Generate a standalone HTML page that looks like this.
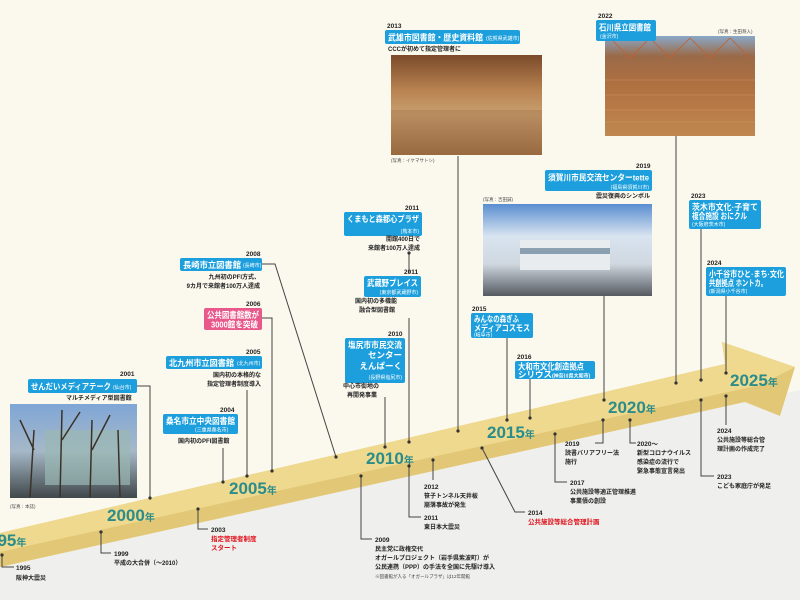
<!DOCTYPE html>
<html><head><meta charset="utf-8"><style>
html,body{margin:0;padding:0;width:800px;height:600px;overflow:hidden;background:#fbf9ee}
svg{display:block}
text{font-family:"Liberation Sans","Noto Sans CJK JP",sans-serif}
.t{fill:#fff;font-weight:bold;font-size:8.5px}
.s{fill:#fff;font-size:5px}
.y{fill:#222;font-size:6.5px;font-weight:bold}
.d{fill:#222;font-size:6px;font-weight:bold}
.c{fill:#444;font-size:4.5px}
.r{fill:#e0141e;font-size:6.5px;font-weight:bold}
.yr{fill:#2b8c8a;font-weight:bold;font-size:17px}
.nen{fill:#2b8c8a;font-weight:bold;font-size:10px}
.ln{stroke:#444;stroke-width:1;fill:none}
.bx{fill:#1c9fdc}
</style></head><body>
<svg width="800" height="600" viewBox="0 0 800 600" xmlns="http://www.w3.org/2000/svg">
<defs>
<linearGradient id="sky" x1="0" y1="0" x2="0" y2="1"><stop offset="0" stop-color="#7fa6d6"/><stop offset="0.5" stop-color="#a6b8c8"/><stop offset="1" stop-color="#40484a"/></linearGradient>
<linearGradient id="tk" x1="0" y1="0" x2="0" y2="1"><stop offset="0" stop-color="#7a4a2a"/><stop offset="0.35" stop-color="#b88250"/><stop offset="0.6" stop-color="#c8a070"/><stop offset="1" stop-color="#8a5a30"/></linearGradient>
<linearGradient id="ik" x1="0" y1="0" x2="0" y2="1"><stop offset="0" stop-color="#8aa8c8"/><stop offset="0.2" stop-color="#9a6a48"/><stop offset="0.5" stop-color="#b07040"/><stop offset="1" stop-color="#c08850"/></linearGradient>
<linearGradient id="sg" x1="0" y1="0" x2="0" y2="1"><stop offset="0" stop-color="#5a8ed0"/><stop offset="0.35" stop-color="#d8e4f0"/><stop offset="0.65" stop-color="#d0d8e0"/><stop offset="1" stop-color="#555a60"/></linearGradient>
</defs>
<polygon points="0,567 745,402 800,390 800,600 0,600" fill="#efefed"/>
<polygon points="0,533 725,364 722,342 795,367 780,416 745,402 0,567" fill="#e2c777"/>
<polygon points="0,533 725,364 722,342 795,367 760,385 0,552" fill="#eed98e"/>
<text x="-12" y="546" class="yr">995<tspan class="nen">年</tspan></text>
<text x="107" y="521" class="yr">2000<tspan class="nen">年</tspan></text>
<text x="229" y="494" class="yr">2005<tspan class="nen">年</tspan></text>
<text x="366" y="464" class="yr">2010<tspan class="nen">年</tspan></text>
<text x="487" y="438" class="yr">2015<tspan class="nen">年</tspan></text>
<text x="608" y="413" class="yr">2020<tspan class="nen">年</tspan></text>
<text x="730" y="386" class="yr">2025<tspan class="nen">年</tspan></text>

<g class="ln">
<polyline points="137,386 150,386 150,498"/>
<line x1="223" y1="448" x2="223" y2="482"/>
<line x1="247" y1="390" x2="247" y2="476"/>
<polyline points="262,318 272,318 272,471"/>
<polyline points="262,264 275,264 336,457"/>
<line x1="385" y1="397" x2="385" y2="447"/>
<line x1="409" y1="253" x2="409" y2="273"/>
<line x1="409" y1="318" x2="409" y2="442"/>
<line x1="458" y1="156" x2="458" y2="431"/>
<line x1="507" y1="338" x2="507" y2="420"/>
<line x1="530" y1="379" x2="530" y2="418"/>
<line x1="604" y1="296" x2="604" y2="400"/>
<line x1="676" y1="136" x2="676" y2="383"/>
<line x1="701" y1="229" x2="701" y2="380"/>
<line x1="726" y1="296" x2="726" y2="373"/>
<polyline points="2,555 2,567 14,567"/>
<polyline points="101,532 101,553 111,553"/>
<polyline points="198,509 198,529 208,529"/>
<polyline points="361,476 361,539 372,539"/>
<polyline points="409,466 409,517 421,517"/>
<line x1="433" y1="460" x2="433" y2="480"/>
<polyline points="482,448 515,512 525,512"/>
<polyline points="555,434 555,482 567,482"/>
<polyline points="603,420 603,443 595,443"/>
<polyline points="630,420 630,443 636,443"/>
<polyline points="701,400 701,476 714,476"/>
<line x1="726" y1="396" x2="726" y2="425"/>
</g>
<g fill="#333">
<circle cx="150" cy="498" r="1.6"/><circle cx="223" cy="482" r="1.6"/><circle cx="247" cy="476" r="1.6"/><circle cx="272" cy="471" r="1.6"/><circle cx="336" cy="457" r="1.6"/><circle cx="385" cy="447" r="1.6"/><circle cx="409" cy="442" r="1.6"/><circle cx="409" cy="253" r="1.6"/><circle cx="458" cy="431" r="1.6"/><circle cx="507" cy="420" r="1.6"/><circle cx="530" cy="418" r="1.6"/><circle cx="604" cy="400" r="1.6"/><circle cx="676" cy="383" r="1.6"/><circle cx="701" cy="380" r="1.6"/><circle cx="726" cy="373" r="1.6"/>
<circle cx="2" cy="555" r="1.6"/><circle cx="101" cy="532" r="1.6"/><circle cx="198" cy="509" r="1.6"/><circle cx="361" cy="476" r="1.6"/><circle cx="409" cy="466" r="1.6"/><circle cx="433" cy="460" r="1.6"/><circle cx="482" cy="448" r="1.6"/><circle cx="555" cy="434" r="1.6"/><circle cx="603" cy="420" r="1.6"/><circle cx="630" cy="420" r="1.6"/><circle cx="701" cy="400" r="1.6"/><circle cx="726" cy="396" r="1.6"/>
</g>

<rect x="10" y="404" width="127" height="94" fill="url(#sky)"/>
<rect x="45" y="430" width="85" height="55" fill="#9ab8b4" opacity="0.7"/>
<g stroke="#3a3228" stroke-width="1.5" fill="none"><path d="M30,497 L34,430 M34,450 L20,420 M60,497 L62,410 M62,440 L80,412 M90,497 L92,420 M92,450 L110,415 M120,497 L118,430"/></g>
<text x="10" y="508" class="c">(写真：本誌)</text>

<rect x="391" y="55" width="151" height="100" fill="url(#tk)"/>
<rect x="391" y="110" width="151" height="45" fill="#a87a50" opacity="0.5"/>
<text x="391" y="162" class="c">(写真：イケマサトシ)</text>

<rect x="605" y="36" width="150" height="100" fill="url(#ik)"/>
<g stroke="#c06030" stroke-width="0.8" fill="none"><path d="M610,38 L630,58 L650,38 L670,58 L690,38 L710,58 L730,38 L750,58"/></g>
<g stroke="#e0a060" stroke-width="0.6" opacity="0.7"><path d="M605,80 H755 M605,95 H755 M605,110 H755 M605,122 H755"/></g>
<text x="718" y="33" class="c">(写真：生田将人)</text>

<rect x="483" y="204" width="169" height="92" fill="url(#sg)"/>
<rect x="520" y="240" width="90" height="30" fill="#e8ecef"/>
<rect x="520" y="248" width="90" height="6" fill="#8aa0b0"/>
<text x="483" y="201" class="c">(写真：吉田誠)</text>

<rect x="28" y="379" width="109" height="14" rx="2" class="bx"/>
<text x="31" y="389.5" class="t" textLength="80" lengthAdjust="spacingAndGlyphs">せんだいメディアテーク</text>
<text x="113" y="389" class="s">(仙台市)</text>
<text x="120" y="376" class="y">2001</text>
<text x="66" y="400" class="d">マルチメディア型図書館</text>

<rect x="163" y="414" width="75" height="20" rx="2" class="bx"/>
<text x="166" y="424" class="t" textLength="69" lengthAdjust="spacingAndGlyphs">桑名市立中央図書館</text>
<text x="195" y="431.5" class="s">(三重県桑名市)</text>
<text x="220" y="412" class="y">2004</text>
<text x="178" y="443" class="d">国内初のPFI図書館</text>

<rect x="166" y="356" width="96" height="13" rx="2" class="bx"/>
<text x="169" y="366" class="t" textLength="65" lengthAdjust="spacingAndGlyphs">北九州市立図書館</text>
<text x="237" y="365" class="s">(北九州市)</text>
<text x="246" y="354" class="y">2005</text>
<text x="261" y="377" class="d" text-anchor="end">国内初の本格的な</text>
<text x="261" y="386" class="d" text-anchor="end">指定管理者制度導入</text>

<rect x="204" y="308" width="58" height="22" rx="2" fill="#e8588a"/>
<text x="207" y="318" class="t" textLength="52" lengthAdjust="spacingAndGlyphs">公共図書館数が</text>
<text x="211" y="327.5" class="t" textLength="47" lengthAdjust="spacingAndGlyphs">3000館を突破</text>
<text x="246" y="306" class="y">2006</text>

<rect x="180" y="258" width="82" height="13" rx="2" class="bx"/>
<text x="183" y="268" class="t" textLength="58" lengthAdjust="spacingAndGlyphs">長崎市立図書館</text>
<text x="243" y="267" class="s">(長崎市)</text>
<text x="246" y="256" class="y">2008</text>
<text x="260" y="279" class="d" text-anchor="end">九州初のPFI方式、</text>
<text x="260" y="288" class="d" text-anchor="end">9カ月で来館者100万人達成</text>

<rect x="385" y="30" width="135" height="14" rx="2" class="bx"/>
<text x="388" y="40.5" class="t" textLength="95" lengthAdjust="spacingAndGlyphs">武雄市図書館・歴史資料館</text>
<text x="486" y="40" class="s">(佐賀県武雄市)</text>
<text x="387" y="28" class="y">2013</text>
<text x="388" y="51" class="d">CCCが初めて指定管理者に</text>

<rect x="596" y="20" width="60" height="21" rx="2" class="bx"/>
<text x="599" y="30.5" class="t" textLength="52" lengthAdjust="spacingAndGlyphs">石川県立図書館</text>
<text x="600" y="38" class="s">(金沢市)</text>
<text x="598" y="18" class="y">2022</text>

<rect x="545" y="170" width="107" height="21" rx="2" class="bx"/>
<text x="548" y="180.5" class="t" textLength="101" lengthAdjust="spacingAndGlyphs">須賀川市民交流センターtette</text>
<text x="649" y="189" class="s" text-anchor="end">(福島県須賀川市)</text>
<text x="636" y="168" class="y">2019</text>
<text x="650" y="198" class="d" text-anchor="end">震災復興のシンボル</text>

<rect x="344" y="212" width="78" height="24" rx="2" class="bx"/>
<text x="347" y="222" class="t" textLength="72" lengthAdjust="spacingAndGlyphs">くまもと森都心プラザ</text>
<text x="419" y="233" class="s" text-anchor="end">(熊本市)</text>
<text x="405" y="210" class="y">2011</text>
<text x="420" y="241" class="d" text-anchor="end">開館400日で</text>
<text x="420" y="250" class="d" text-anchor="end">来館者100万人達成</text>

<rect x="364" y="276" width="57" height="21" rx="2" class="bx"/>
<text x="367" y="286" class="t" textLength="51" lengthAdjust="spacingAndGlyphs">武蔵野プレイス</text>
<text x="418" y="294" class="s" text-anchor="end">(東京都武蔵野市)</text>
<text x="404" y="274" class="y">2011</text>
<text x="355" y="303" class="d">国内初の多機能</text>
<text x="359" y="312" class="d">融合型図書館</text>

<rect x="345" y="338" width="60" height="45" rx="2" class="bx"/>
<text x="348" y="348" class="t" textLength="54" lengthAdjust="spacingAndGlyphs">塩尻市市民交流</text>
<text x="402" y="358" class="t" text-anchor="end">センター</text>
<text x="402" y="369" class="t" text-anchor="end">えんぱーく</text>
<text x="402" y="379" class="s" text-anchor="end">(長野県塩尻市)</text>
<text x="388" y="336" class="y">2010</text>
<text x="343" y="388" class="d">中心市街地の</text>
<text x="347" y="397" class="d">再開発事業</text>

<rect x="471" y="313" width="62" height="25" rx="2" class="bx"/>
<text x="474" y="322" class="t" textLength="45" lengthAdjust="spacingAndGlyphs">みんなの森ぎふ</text>
<text x="474" y="331" class="t" textLength="56" lengthAdjust="spacingAndGlyphs">メディアコスモス</text>
<text x="474" y="336.5" class="s" font-size="4">(岐阜市)</text>
<text x="472" y="311" class="y">2015</text>

<rect x="515" y="361" width="80" height="18" rx="2" class="bx"/>
<text x="518" y="369.5" class="t" textLength="66" lengthAdjust="spacingAndGlyphs">大和市文化創造拠点</text>
<text x="518" y="377.5" class="t" font-size="8">シリウス<tspan class="s">(神奈川県大和市)</tspan></text>
<text x="517" y="359" class="y">2016</text>

<rect x="689" y="200" width="72" height="29" rx="2" class="bx"/>
<text x="692" y="210" class="t" textLength="66" lengthAdjust="spacingAndGlyphs">茨木市文化·子育て</text>
<text x="692" y="219" class="t" textLength="55" lengthAdjust="spacingAndGlyphs">複合施設 おにクル</text>
<text x="692" y="226" class="s">(大阪府茨木市)</text>
<text x="691" y="198" class="y">2023</text>

<rect x="706" y="267" width="80" height="29" rx="2" class="bx"/>
<text x="709" y="277" class="t" textLength="75" lengthAdjust="spacingAndGlyphs">小千谷市ひと·まち·文化</text>
<text x="709" y="286" class="t" textLength="58" lengthAdjust="spacingAndGlyphs">共創拠点 ホントカ。</text>
<text x="709" y="293" class="s">(新潟県小千谷市)</text>
<text x="707" y="265" class="y">2024</text>

<text x="16" y="570" class="y">1995</text>
<text x="16" y="580" class="d">阪神大震災</text>
<text x="114" y="556" class="y">1999</text>
<text x="114" y="565" class="d">平成の大合併（～2010）</text>
<text x="211" y="532" class="y">2003</text>
<text x="211" y="541" class="r">指定管理者制度</text>
<text x="211" y="550" class="r">スタート</text>
<text x="375" y="542" class="y">2009</text>
<text x="375" y="551" class="d">民主党に政権交代</text>
<text x="375" y="560" class="d">オガールプロジェクト（岩手県紫波町）が</text>
<text x="375" y="569" class="d">公民連携（PPP）の手法を全国に先駆け導入</text>
<text x="375" y="578" class="c" font-size="5">※図書館が入る「オガールプラザ」は12年開館</text>
<text x="424" y="520" class="y">2011</text>
<text x="424" y="529" class="d">東日本大震災</text>
<text x="424" y="489" class="y">2012</text>
<text x="424" y="498" class="d">笹子トンネル天井板</text>
<text x="424" y="507" class="d">崩落事故が発生</text>
<text x="528" y="515" class="y">2014</text>
<text x="528" y="524" class="r">公共施設等総合管理計画</text>
<text x="570" y="485" class="y">2017</text>
<text x="570" y="494" class="d">公共施設等適正管理推進</text>
<text x="570" y="503" class="d">事業債の創設</text>
<text x="565" y="446" class="y">2019</text>
<text x="565" y="455" class="d">読書バリアフリー法</text>
<text x="565" y="464" class="d">施行</text>
<text x="637" y="446" class="y">2020～</text>
<text x="637" y="455" class="d">新型コロナウイルス</text>
<text x="637" y="464" class="d">感染症の流行で</text>
<text x="637" y="473" class="d">緊急事態宣言発出</text>
<text x="717" y="479" class="y">2023</text>
<text x="717" y="488" class="d">こども家庭庁が発足</text>
<text x="717" y="433" class="y">2024</text>
<text x="717" y="442" class="d">公共施設等総合管</text>
<text x="717" y="451" class="d">理計画の作成完了</text>
</svg>
</body></html>
